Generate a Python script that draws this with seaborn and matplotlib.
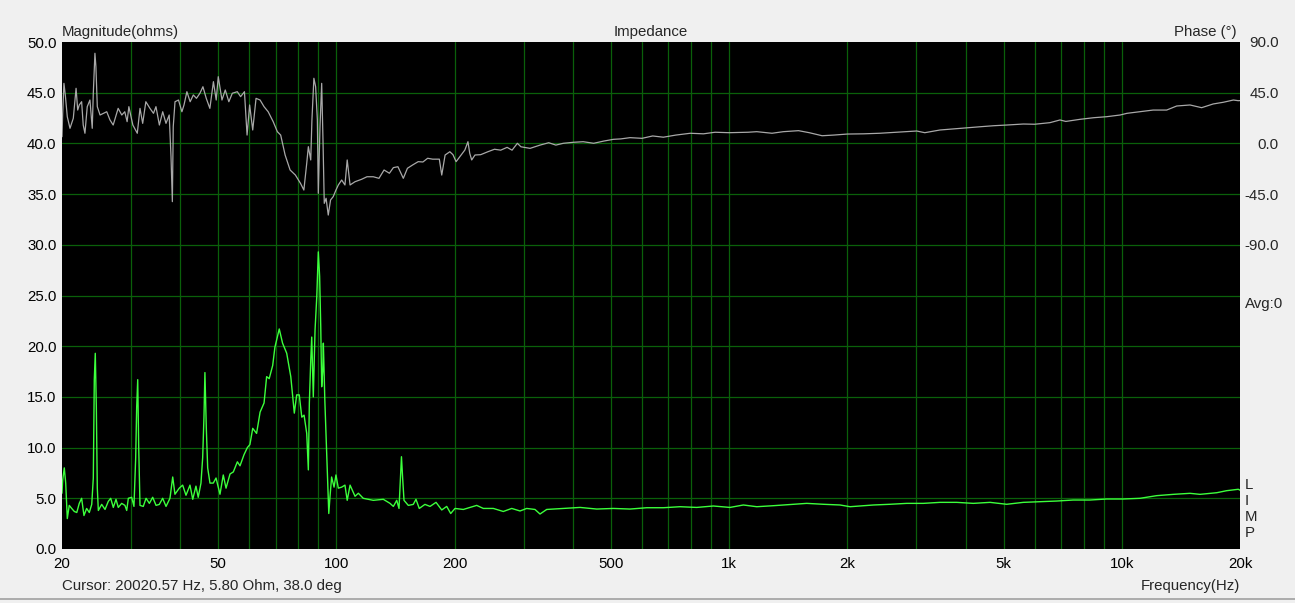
import numpy as np
import pandas as pd
import matplotlib
matplotlib.use("Agg")
import matplotlib.pyplot as plt
from matplotlib.lines import Line2D
from matplotlib.ticker import FixedLocator, NullLocator
import seaborn as sns

# impedance magnitude (ohms) vs frequency (Hz)
imp_freq = [20.0, 20.08, 20.27, 20.44, 20.63, 20.87, 21.17, 21.5, 21.81, 22.13, 22.44, 22.75, 23.11,
            23.47, 23.81, 24.03, 24.17, 24.31, 24.46, 24.6, 24.75, 25.24, 25.74, 26.24, 26.61, 27.02,
            27.45, 27.82, 28.38, 28.93, 29.23, 29.51, 30.09, 30.5, 30.81, 30.99, 31.18, 31.36, 31.6,
            32.21, 32.74, 33.38, 34.04, 34.72, 35.39, 36.09, 36.81, 37.67, 38.28, 38.79, 39.78, 40.58,
            41.38, 42.36, 43.05, 43.87, 44.46, 45.18, 45.63, 45.98, 46.24, 46.61, 46.99, 47.63, 48.56,
            49.35, 50.51, 51.49, 52.33, 53.57, 54.62, 55.93, 56.8, 58.15, 59.3, 60.2, 61.2, 62.6, 63.9,
            65.4, 66.4, 67.4, 68.8, 69.7, 71.5, 72.9, 74.7, 76.5, 77.4, 78.1, 79.2, 80.4, 81.6, 82.7,
            84.0, 84.8, 85.3, 86.0, 86.5, 87.3, 88.2, 89.1, 89.9, 90.6, 91.2, 91.7, 92.3, 92.6, 93.4,
            94.1, 94.8, 95.6, 96.3, 97.2, 98.6, 99.7, 101.1, 103.1, 105.1, 106.5, 108.3, 111.5, 113.7,
            117.0, 124.1, 131.6, 136.9, 139.6, 142.4, 144.3, 145.5, 146.4, 147.4, 148.6, 152.4, 156.9,
            159.4, 162.5, 168.0, 173.1, 179.3, 185.4, 190.9, 195.4, 200.4, 210.4, 218.8, 227.6, 236.6,
            250.9, 266.0, 279.5, 293.4, 305.1, 320.3, 329.9, 343.1, 378.3, 417.3, 460.1, 507.0, 559.4,
            616.8, 680.0, 749.7, 826.8, 911.6, 1005, 1087, 1176, 1296, 1457, 1576, 1738, 1916, 2032,
            2330, 2569, 2833, 3123, 3444, 3798, 4187, 4617, 5091, 5613, 6189, 6825, 7524, 8299, 9152,
            10090, 11130, 12270, 13530, 14920, 15820, 17450, 18490, 19800, 20000]
imp_ohm = [5.5, 6.8, 8.0, 6.5, 3.0, 4.3, 4.0, 3.7, 3.6, 4.5, 5.0, 3.3, 4.0,
           3.6, 4.4, 7.0, 16.7, 19.3, 14.0, 6.0, 3.8, 4.4, 3.9, 4.7, 5.0, 4.1,
           4.9, 4.1, 4.5, 4.3, 3.8, 5.0, 5.1, 4.2, 9.0, 14.0, 16.7, 10.0, 4.3,
           4.2, 5.0, 4.5, 5.1, 4.3, 4.4, 5.0, 4.2, 5.0, 7.1, 5.4, 6.0, 6.3,
           5.3, 6.3, 4.9, 6.2, 5.1, 6.5, 9.0, 13.0, 17.4, 12.0, 8.0, 6.5, 6.5,
           7.0, 5.4, 7.3, 6.0, 7.4, 7.6, 8.6, 8.2, 9.3, 10.0, 10.3, 11.9, 11.4, 13.5,
           14.4, 17.0, 16.8, 18.1, 19.9, 21.7, 20.3, 19.3, 17.0, 15.0, 13.4, 15.2, 15.2, 13.0, 13.2,
           11.4, 7.8, 14.4, 18.6, 20.9, 15.0, 21.6, 24.9, 29.3, 26.9, 21.9, 16.0, 17.7, 20.3, 14.7,
           11.1, 7.5, 3.5, 5.2, 7.1, 6.1, 7.3, 6.0, 6.1, 6.3, 4.8, 6.3, 5.2, 5.5,
           5.0, 4.8, 4.9, 4.5, 4.2, 4.8, 4.0, 7.0, 9.1, 7.0, 4.8, 4.3, 4.4,
           4.9, 4.0, 4.4, 4.2, 4.6, 3.85, 4.2, 3.5, 4.0, 3.9, 4.1, 4.3, 4.0,
           4.0, 3.7, 4.0, 3.75, 4.0, 3.9, 3.45, 3.9, 4.0, 4.1, 3.94, 4.0, 3.94,
           4.07, 4.07, 4.17, 4.1, 4.24, 4.1, 4.34, 4.17, 4.27, 4.41, 4.5, 4.41, 4.34, 4.17,
           4.34, 4.41, 4.5, 4.5, 4.6, 4.6, 4.5, 4.6, 4.41, 4.6, 4.66, 4.73, 4.83, 4.83, 4.93,
           4.93, 5.0, 5.26, 5.39, 5.49, 5.39, 5.55, 5.75, 5.89, 5.8]

# phase (degrees) vs frequency (Hz)
ph_freq = [20.0, 20.08, 20.23, 20.39, 20.63, 20.96, 21.37, 21.72, 21.93, 22.13, 22.44, 22.65, 22.88,
           23.19, 23.56, 23.88, 24.03, 24.26, 24.4, 24.6, 25.0, 25.5, 26.0, 26.5, 27.0, 27.8, 28.4,
           28.9, 29.3, 29.6, 30.3, 31.1, 31.6, 32.1, 32.7, 33.5, 34.2, 34.7, 35.4, 36.1, 36.8, 37.5,
           37.9, 38.2, 38.4, 38.8, 39.6, 40.4, 40.9, 41.6, 42.4, 43.2, 44.0, 44.9, 45.7, 46.6, 47.6,
           48.6, 49.4, 50.0, 51.1, 52.1, 53.2, 54.3, 55.9, 57.0, 58.3, 59.2, 60.1, 61.2, 62.4, 63.9,
           65.4, 67.0, 69.0, 70.7, 72.1, 74.0, 76.2, 78.6, 81.0, 82.6, 84.0, 84.8, 86.0, 86.6, 87.6,
           88.5, 89.4, 89.9, 90.8, 91.7, 92.4, 93.1, 94.1, 95.3, 96.6, 98.1, 99.7, 101.1, 103.1,
           105.1, 106.5, 108.3, 111.5, 115.8, 119.6, 124.1, 128.3, 132.2, 136.4, 139.6, 143.4, 148.0,
           151.6, 156.2, 161.5, 166.0, 170.7, 175.8, 182.8, 185.4, 189.1, 194.4, 198.0, 201.7, 206.0,
           212.3, 216.2, 218.5, 221.0, 225.3, 233.0, 243.0, 252.6, 262.0, 272.0, 280.0, 288.9, 295.0,
           311.2, 330.0, 347.2, 362.0, 378.3, 401.7, 425.0, 451.9, 479.9, 507.0, 530.0, 559.4, 600.0,
           638.7, 680.0, 732.0, 796.5, 860.0, 920.9, 1000, 1117, 1176, 1286, 1374, 1502, 1600, 1725,
           1848, 2000, 2200, 2419, 2668, 3004, 3150, 3444, 3878, 4366, 4723, 5091, 5613, 6000, 6560,
           6960, 7200, 7840, 8478, 9152, 9902, 10310, 11130, 12020, 13010, 13800, 14920, 15970, 17090,
           18130, 19240, 19800, 20000]
ph_deg = [5.9, 26.7, 53.3, 43.0, 23.7, 13.4, 22.3, 48.9, 29.6, 34.1, 37.0, 16.3, 9.0,
          32.6, 38.5, 13.4, 44.5, 80.0, 68.1, 32.6, 25.2, 26.7, 28.1, 20.8, 16.3, 31.1, 25.2,
          28.1, 19.3, 32.6, 16.3, 9.0, 31.1, 17.8, 37.0, 31.1, 26.7, 32.6, 16.3, 28.1, 17.8, 25.2,
          -11.8, -51.7, 14.8, 37.0, 38.5, 28.1, 34.1, 45.9, 37.0, 43.0, 40.0, 44.5, 50.3, 40.0, 31.1,
          54.8, 38.5, 59.2, 38.5, 47.4, 37.0, 44.5, 45.9, 41.5, 45.9, 7.4, 34.1, 11.9, 40.0, 38.5,
          32.6, 28.1, 19.3, 10.4, 7.4, -10.3, -23.6, -28.1, -35.5, -41.4, -17.7, -2.9, -14.7, 20.8, 57.8,
          50.3, 20.8, -44.3, 14.8, 53.3, 3.0, -53.2, -48.7, -63.6, -50.2, -47.3, -41.4, -36.9, -32.5,
          -36.9, -14.7, -36.9, -34.0, -31.9, -29.6, -29.6, -31.0, -23.6, -26.5, -21.5, -20.7, -31.0,
          -22.1, -19.2, -16.2, -16.5, -13.2, -14.0, -14.0, -28.1, -10.3, -7.4, -10.0, -16.2, -12.0,
          -5.9, 1.5, -8.8, -14.7, -10.3, -10.0, -7.4, -5.2, -6.0, -3.5, -6.0, 0.1, -3.0,
          -4.4, -1.5, 0.6, -1.5, 0.1, 1.0, 1.5, 0.1, 2.1, 3.6, 4.0, 5.1, 4.5,
          6.6, 5.5, 7.4, 9.0, 8.5, 9.9, 9.5, 9.9, 10.4, 9.0, 10.4, 11.3, 9.5, 6.8,
          7.4, 8.3, 8.5, 9.0, 9.9, 11.0, 9.5, 11.9, 13.4, 14.8, 15.7, 16.3, 17.2, 17.0, 18.4,
          20.8, 19.5, 21.4, 22.8, 23.7, 25.2, 26.7, 28.1, 29.6, 29.6, 33.2, 34.1, 31.7, 35.0,
          36.5, 38.5, 37.9, 38.0]

grid_freqs = [20, 30, 40, 50, 60, 70, 80, 90, 100, 200, 300, 400, 500, 600, 700, 800, 900,
              1000, 2000, 3000, 4000, 5000, 6000, 7000, 8000, 9000, 10000, 20000]
freq_labels = {20: "20", 50: "50", 100: "100", 200: "200", 500: "500", 1000: "1k",
               2000: "2k", 5000: "5k", 10000: "10k", 20000: "20k"}
mag_ticks = [0, 5, 10, 15, 20, 25, 30, 35, 40, 45, 50]
phase_ticks = [90, 45, 0, -45, -90]

imp = pd.DataFrame({"freq": imp_freq, "ohm": imp_ohm})
ph = pd.DataFrame({"freq": ph_freq, "deg": ph_deg})

sns.set_style("white")
plt.rcParams["font.family"] = ["Liberation Sans", "DejaVu Sans"]
FS = 10.8
BG = "#f0f0f0"
GRID = "#0a600a"

fig = plt.figure(figsize=(12.95, 6.03), dpi=100, facecolor=BG)
ax = fig.add_axes([62 / 1295, 1 - 549 / 603, 1178 / 1295, 507 / 603])
ax.set_facecolor("black")
ax.set_xscale("log")
ax.set_xlim(20, 20000)
ax.set_ylim(0, 50)

# grid lines (none on the plot border)
for f in grid_freqs[1:-1]:
    ax.axvline(f, color=GRID, lw=0.9, zorder=1)
for m in mag_ticks[1:-1]:
    ax.axhline(m, color=GRID, lw=0.9, zorder=1)

ax2 = ax.twinx()
ax2.set_ylim(-360, 90)
ax2.patch.set_visible(False)
ax.set_zorder(1)
ax2.set_zorder(2)

sns.lineplot(data=ph, x="freq", y="deg", ax=ax2, color="#a8a8a8", lw=0.9,
             estimator=None, sort=False, legend=False)
sns.lineplot(data=imp, x="freq", y="ohm", ax=ax, color="#3cff3c", lw=1.0,
             estimator=None, sort=False, legend=False, zorder=3)

ax.xaxis.set_major_locator(FixedLocator(grid_freqs))
ax.xaxis.set_minor_locator(NullLocator())
ax.set_xticklabels([freq_labels.get(f, "") for f in grid_freqs])
ax.set_yticks(mag_ticks)
ax.set_yticklabels([f"{m:.1f}" for m in mag_ticks])
ax2.set_yticks(phase_ticks)
ax2.set_yticklabels([f"{p:.1f}" for p in phase_ticks])
ax.tick_params(axis="both", length=0, labelsize=FS, colors="black")
ax.tick_params(axis="x", pad=6)
ax.tick_params(axis="y", pad=4)
ax2.tick_params(axis="y", length=0, labelsize=FS, pad=28)
for lbl in ax2.get_yticklabels():
    lbl.set_horizontalalignment("right")
ax.set_xlabel("")
ax.set_ylabel("")
ax2.set_ylabel("")
for a in (ax, ax2):
    for s in a.spines.values():
        s.set_visible(False)

ax.text(0.0, 1.006, "Magnitude(ohms)", transform=ax.transAxes, fontsize=FS, ha="left", va="bottom")
ax.text(0.5, 1.006, "Impedance", transform=ax.transAxes, fontsize=FS, ha="center", va="bottom")
ax.text(0.9975, 1.006, "Phase (°)", transform=ax.transAxes, fontsize=FS, ha="right", va="bottom")
ax.text(1.004, 0.483, "Avg:0", transform=ax.transAxes, fontsize=FS, ha="left", va="center")
for letter, yy in zip("LIMP", [0.126, 0.0947, 0.063, 0.0316]):
    ax.text(1.004, yy, letter, transform=ax.transAxes, fontsize=FS, ha="left", va="center")

fig.text(62 / 1295, 1 - 586 / 603, "Cursor: 20020.57 Hz, 5.80 Ohm, 38.0 deg", fontsize=FS,
         ha="left", va="center")
fig.text(1240 / 1295, 1 - 586 / 603, "Frequency(Hz)", fontsize=FS, ha="right", va="center")
fig.add_artist(Line2D([0, 1], [1 - 599 / 603, 1 - 599 / 603], transform=fig.transFigure,
                      color="#a0a0a0", lw=1.2))

fig.savefig("out.png", dpi=100, facecolor=BG)
